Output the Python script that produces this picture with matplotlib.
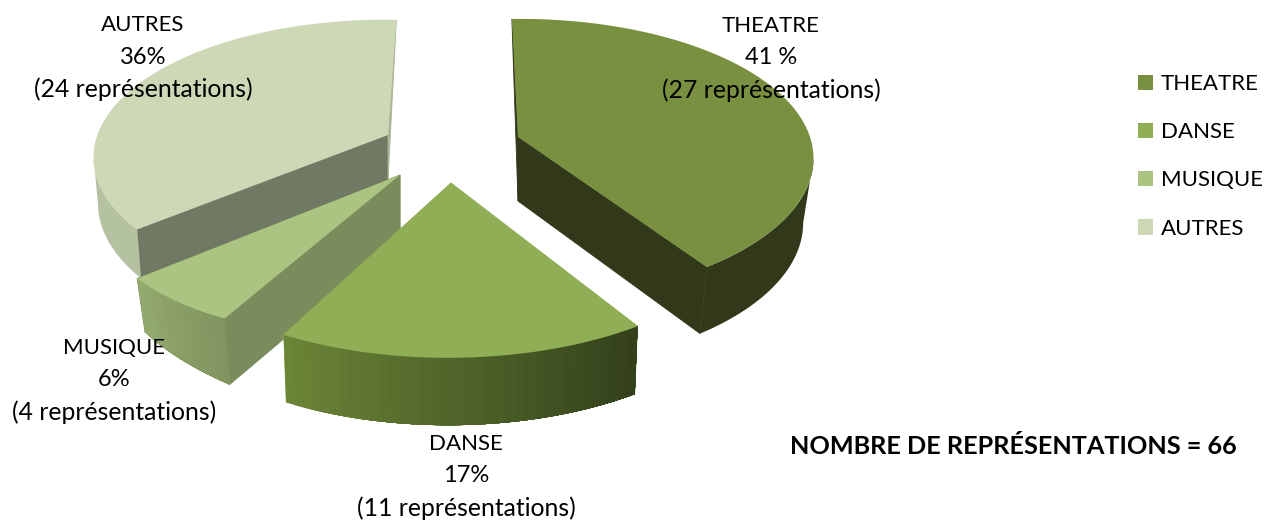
import numpy as np
import matplotlib
matplotlib.use("Agg")
import matplotlib.pyplot as plt
from matplotlib.colors import to_rgb
from matplotlib.patches import Patch

# --- data ---
categories = ["THEATRE", "DANSE", "MUSIQUE", "AUTRES"]
counts = [27, 11, 4, 24]
pct_labels = ["41 %", "17%", "6%", "36%"]
total_label = "NOMBRE DE REPRÉSENTATIONS = 66"

# --- layout / style (pixel frame of the reference) ---
apex_x = [518, 451, 400, 388]
apex_y = [137, 183, 175, 135]
depth = [64, 70, 66, 45]
shear = [-0.015, -0.09, -0.19, -0.14]
vshear = [0.0, 0.02, 0.0, 0.03]
radius = [292, 305, 295, 287]
ry_scale = [137, 147, 136, 134]
wall_sx = [0.965, 0.985, 0.97, 0.985]
wall_sy = [1.02, 0.985, 1.0, 1.04]
wall_taper = [0.0, 0.0, 0.136, 0.0]
persp = 0.16
start_t = -1.8

top_cols = ["#7a9041", "#8fae55", "#abc482", "#cdd8b6"]
wall_start_cols = ["#31391a", "#8fae55", "#7a8c5c", "#6f7963"]
wall_end_cols = ["#31391a", "#8fae55", "#7a8c5c", "#a9b596"]
rim_left_cols = ["#31391a", "#6b8537", "#94ab6e", "#b5c2a2"]
rim_right_cols = ["#31391a", "#33401b", "#80945f", "#b5c2a2"]

label_x = [771, 466, 114, 143]
label_y = [26, 444, 348, 25]
line_gap = 32

FONT = "Lato"
FS_CAPS = 16
FS_PCT = 17
FS_PAREN = 17.8
FS_BOLD = 18.2

fig = plt.figure(figsize=(12.69, 5.2), dpi=100)
ax = fig.add_axes([0, 0, 1, 1])
ax.set_xlim(0, 1269)
ax.set_ylim(520, 0)
ax.axis("off")


def project(i, t):
    """Rim offset from the slice apex, for pie angle t (degrees clockwise from top)."""
    r = np.radians(t)
    Y = -np.cos(r)
    p = 1.0 / (1.0 - persp * Y)
    y = ry_scale[i] * Y * p
    x = radius[i] * np.sin(r) * p + shear[i] * y
    y = y + vshear[i] * x
    return x, y, Y


edges = start_t + np.concatenate([[0], np.cumsum(counts)]) / sum(counts) * 360.0
# painter's order: back slices first
for i in [3, 2, 1, 0]:
    t = np.linspace(edges[i], edges[i + 1], 200)
    x, y, Y = project(i, t)
    ax0, ay0, d = apex_x[i], apex_y[i], depth[i]
    tx, ty = ax0 + x, ay0 + y
    bx = ax0 + wall_sx[i] * x
    by = ay0 + d + wall_sy[i] * y + wall_taper[i] * (x - x[0])
    base_z = 1 + (3 - i) * 3

    # flat cut walls
    for idx, col in ((0, wall_start_cols[i]), (-1, wall_end_cols[i])):
        if Y[idx] < -0.5:
            px = [tx[idx], ax0, ax0]
            py = [ty[idx], ay0, ay0 + d]
        else:
            px = [tx[idx], ax0, ax0, bx[idx]]
            py = [ty[idx], ay0, ay0 + d, by[idx]]
        ax.fill(px, py, color=col, lw=0.6, zorder=base_z)

    # curved outer wall, shaded left to right in bands, each band overlapping the next
    vis = np.where(Y > -0.3)[0]
    order = vis[np.argsort(tx[vis])]
    lo, hi = order[0], order[-1]
    step = 1 if hi > lo else -1
    span = np.arange(lo, hi + step, step)
    cl, cr = np.array(to_rgb(rim_left_cols[i])), np.array(to_rgb(rim_right_cols[i]))
    n_bands = 1 if rim_left_cols[i] == rim_right_cols[i] else 36
    for b in range(n_bands):
        seg = span[int(b / n_bands * (len(span) - 1)):]
        c = cl + (cr - cl) * (b / max(n_bands - 1, 1))
        ax.fill(np.r_[tx[seg], bx[seg][::-1]], np.r_[ty[seg], by[seg][::-1]],
                color=tuple(c), lw=0, zorder=base_z + 1)

    # top face
    ax.fill(np.r_[ax0, tx], np.r_[ay0, ty], color=top_cols[i], lw=0, zorder=base_z + 2)

for i, cat in enumerate(categories):
    lines = [(cat, FS_CAPS), (pct_labels[i], FS_PCT), (f"({counts[i]} représentations)", FS_PAREN)]
    for k, (s, fs) in enumerate(lines):
        ax.text(label_x[i], label_y[i] + k * line_gap, s, ha="center", va="center",
                family=FONT, fontsize=fs, color="black", zorder=30)

ax.text(1013, 446, total_label, ha="center", va="center", family=FONT,
        fontsize=FS_BOLD, fontweight="bold", color="black", zorder=30)

handles = [Patch(facecolor=c, edgecolor="none") for c in top_cols]
ax.legend(handles, categories, loc="upper left", bbox_to_anchor=(1138 / 1269, 1 - 74 / 520),
          frameon=False, prop={"family": FONT, "size": FS_CAPS}, handlelength=0.68, handleheight=0.68,
          handletextpad=0.36, labelspacing=1.27, borderpad=0, borderaxespad=0)

fig.savefig("out.png", dpi=100, facecolor="white")
